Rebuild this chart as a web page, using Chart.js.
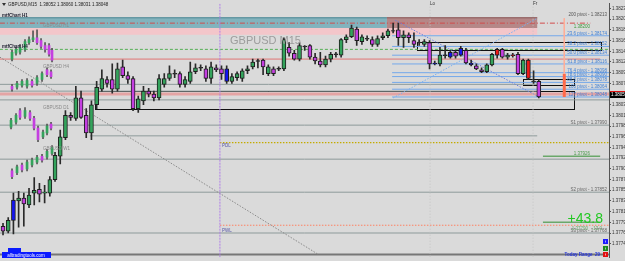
<!DOCTYPE html>
<html lang="en">
<head>
<meta charset="UTF-8">
<title>GBPUSD M15</title>
<style>
  html, body { margin: 0; padding: 0; background: #dadada; overflow: hidden; }
  #chart { display: block; }
</style>
</head>
<body>
<canvas id="chart" width="625" height="261" style="width:625px;height:261px"></canvas>
<script src="https://cdn.jsdelivr.net/npm/chart.js"></script>
<script>
// M15 candles, one per bar index (0 = leftmost)
const opens = [1.37782,1.37772,1.37794,1.37834,1.37840,1.37826,1.37850,1.37858,1.37850,1.37850,
  1.37878,1.37926,1.37964,1.38010,1.38004,1.38046,1.38010,1.37974,1.38032,1.38064,
  1.38084,1.38084,1.38064,1.38110,1.38092,1.38086,1.38024,1.38040,1.38060,1.38054,
  1.38046,1.38074,1.38086,1.38096,1.38096,1.38074,1.38080,1.38100,1.38108,1.38106,
  1.38086,1.38108,1.38106,1.38106,1.38080,1.38088,1.38086,1.38102,1.38110,1.38122,
  1.38124,1.38096,1.38106,1.38106,1.38106,1.38150,1.38138,1.38126,1.38152,1.38154,
  1.38130,1.38122,1.38114,1.38126,1.38136,1.38134,1.38166,1.38172,1.38188,1.38162,
  1.38168,1.38166,1.38156,1.38170,1.38174,1.38184,1.38186,1.38170,1.38176,1.38164,
  1.38160,1.38156,1.38160,1.38118,1.38116,1.38134,1.38130,1.38140,1.38134,1.38144,
  1.38118,1.38112,1.38104,1.38100,1.38114,1.38134,1.38146,1.38130,1.38134,1.38136,
  1.38096,1.38124,1.38080,1.38080];
const highs = [1.37788,1.37800,1.37850,1.37854,1.37850,1.37860,1.37882,1.37870,1.37866,1.37884,
  1.37934,1.37980,1.38020,1.38016,1.38070,1.38060,1.38024,1.38040,1.38080,1.38104,
  1.38090,1.38116,1.38118,1.38124,1.38100,1.38090,1.38050,1.38070,1.38066,1.38060,
  1.38094,1.38096,1.38112,1.38104,1.38100,1.38090,1.38120,1.38116,1.38114,1.38112,
  1.38120,1.38114,1.38112,1.38112,1.38096,1.38100,1.38106,1.38112,1.38126,1.38126,
  1.38126,1.38114,1.38110,1.38110,1.38170,1.38160,1.38144,1.38160,1.38154,1.38156,
  1.38138,1.38140,1.38132,1.38140,1.38140,1.38168,1.38176,1.38196,1.38192,1.38176,
  1.38174,1.38172,1.38174,1.38180,1.38188,1.38200,1.38200,1.38184,1.38180,1.38180,
  1.38166,1.38166,1.38164,1.38122,1.38150,1.38154,1.38144,1.38144,1.38152,1.38148,
  1.38124,1.38116,1.38108,1.38116,1.38138,1.38148,1.38148,1.38138,1.38138,1.38140,
  1.38126,1.38126,1.38102,1.38084];
const lows = [1.37764,1.37768,1.37766,1.37780,1.37782,1.37820,1.37826,1.37832,1.37830,1.37844,
  1.37874,1.37910,1.37960,1.38000,1.38000,1.38004,1.37964,1.37960,1.38024,1.38060,
  1.38068,1.38056,1.38060,1.38088,1.38076,1.38020,1.38016,1.38032,1.38048,1.38040,
  1.38042,1.38068,1.38082,1.38088,1.38068,1.38068,1.38076,1.38096,1.38102,1.38080,
  1.38076,1.38100,1.38084,1.38076,1.38076,1.38082,1.38080,1.38096,1.38106,1.38108,
  1.38094,1.38092,1.38092,1.38102,1.38102,1.38132,1.38124,1.38122,1.38144,1.38126,
  1.38116,1.38110,1.38110,1.38120,1.38130,1.38130,1.38160,1.38170,1.38154,1.38156,
  1.38164,1.38152,1.38152,1.38166,1.38170,1.38180,1.38154,1.38150,1.38160,1.38150,
  1.38154,1.38152,1.38106,1.38114,1.38112,1.38128,1.38128,1.38128,1.38132,1.38116,
  1.38112,1.38104,1.38098,1.38098,1.38112,1.38128,1.38128,1.38126,1.38130,1.38094,
  1.38094,1.38084,1.38076,1.38046];
const closes = [1.37772,1.37794,1.37836,1.37840,1.37828,1.37846,1.37856,1.37848,1.37852,1.37878,
  1.37928,1.37966,1.38010,1.38006,1.38046,1.38006,1.37974,1.38032,1.38068,1.38086,
  1.38076,1.38064,1.38106,1.38092,1.38084,1.38024,1.38044,1.38060,1.38054,1.38046,
  1.38086,1.38086,1.38096,1.38096,1.38074,1.38084,1.38100,1.38108,1.38108,1.38086,
  1.38110,1.38104,1.38096,1.38080,1.38090,1.38096,1.38102,1.38106,1.38120,1.38122,
  1.38110,1.38110,1.38096,1.38106,1.38166,1.38138,1.38126,1.38154,1.38152,1.38130,
  1.38122,1.38114,1.38126,1.38136,1.38136,1.38166,1.38172,1.38190,1.38164,1.38172,
  1.38168,1.38156,1.38168,1.38174,1.38184,1.38184,1.38170,1.38176,1.38170,1.38156,
  1.38160,1.38162,1.38116,1.38116,1.38134,1.38134,1.38140,1.38132,1.38148,1.38118,
  1.38114,1.38106,1.38100,1.38114,1.38136,1.38146,1.38130,1.38134,1.38134,1.38096,
  1.38124,1.38086,1.38080,1.38048];
// bars painted blue / red by the indicator
const blueBars = [2, 43, 83, 86, 88, 90];
const redBars = [95, 98, 101];

// small H1 / H4 / D1 / W1 panels at the left (x in bar units)
const miniX = [1.73,2.5,3.27,4.23,5.0,5.77,6.54,7.31,8.08,8.85,9.42,
  1.73,2.69,3.65,4.62,5.58,6.54,7.5,8.46,9.23,
  1.54,2.5,3.27,4.23,5.19,5.96,6.73,7.69,8.46,9.23,
  1.73,2.69,3.65,4.62,5.58,6.54,7.5,8.46,9.42];
const miniOpen = [1.38126,1.38138,1.38140,1.38146,1.38160,1.38166,1.38170,1.38164,1.38154,1.38154,1.38144,
  1.38070,1.38068,1.38072,1.38070,1.38080,1.38076,1.38084,1.38104,1.38100,
  1.37986,1.37996,1.38020,1.38008,1.38016,1.38004,1.37984,1.37966,1.37974,1.37992,
  1.37896,1.37892,1.37908,1.37900,1.37908,1.37914,1.37926,1.37924,1.37932];
const miniHigh = [1.38144,1.38150,1.38156,1.38166,1.38172,1.38184,1.38186,1.38168,1.38160,1.38158,1.38148,
  1.38074,1.38080,1.38084,1.38086,1.38084,1.38092,1.38100,1.38108,1.38104,
  1.38004,1.38014,1.38024,1.38026,1.38020,1.38008,1.37988,1.37980,1.37992,1.37996,
  1.37900,1.37908,1.37912,1.37918,1.37922,1.37928,1.37930,1.37940,1.37948];
const miniLow = [1.38122,1.38134,1.38136,1.38142,1.38156,1.38162,1.38156,1.38148,1.38140,1.38132,1.38120,
  1.38060,1.38064,1.38068,1.38066,1.38068,1.38072,1.38080,1.38090,1.38086,
  1.37982,1.37992,1.38002,1.38004,1.38000,1.37980,1.37956,1.37962,1.37970,1.37980,
  1.37880,1.37888,1.37894,1.37896,1.37904,1.37910,1.37914,1.37920,1.37928];
const miniClose = [1.38140,1.38146,1.38150,1.38162,1.38166,1.38170,1.38160,1.38152,1.38146,1.38136,1.38124,
  1.38064,1.38076,1.38080,1.38082,1.38072,1.38088,1.38096,1.38094,1.38090,
  1.38000,1.38010,1.38006,1.38020,1.38004,1.37984,1.37960,1.37976,1.37988,1.37984,
  1.37884,1.37904,1.37898,1.37914,1.37918,1.37924,1.37918,1.37936,1.37944];

// horizontal levels: price, first bar, last bar
const grayLevels = [1.38074, 1.38060, 1.38042, 1.37990, 1.37968, 1.37920, 1.37852, 1.37768];
const grayFrom   = [-0.6, -0.6, -0.6, -0.6, 16.7, -0.6, -0.6, -0.6];
const grayTo     = [102.7, 102.7, 116.5, 116.5, 102.7, 116.5, 116.5, 116.5];
const fibLevels  = [1.38174, 1.38152, 1.38134, 1.38116, 1.38098, 1.38090, 1.38078, 1.38064, 1.38048];
const fibNames   = ['23.6 pivot', '38.2 pivot', '50.0 pivot', '61.8 pivot', '76.4 pivot', '78.6 pivot', '88.6 pivot', '100 pivot', '127 pivot'];
const redDashLevel = 1.38200;
const greenDashLevel = 1.38146;
const salmonLevel = 1.38126;
const pinkLevel = 1.38054;
const yellowLevel = 1.37954;
const orangeLevel = 1.37784;
const greenShortLevels = [1.37926, 1.37790];
const bottomLevel = 1.37724;

// zones [fromBar, toBar, priceTop, priceBottom]
const tealZone = [-0.6, 73.8, 1.38212, 1.38190];
const brownZone = [73.8, 102.7, 1.38212, 1.38190];
const pinkZone = [-0.6, 102.7, 1.38190, 1.38176];
const boxes = [[17.7, 109.8, 1.38060, 1.38024], [100.0, 109.8, 1.38086, 1.38072], [79.6, 114.9, 1.38162, 1.38144]];

const yTickLabels = ['1.38230','1.38208','1.38186','1.38164','1.38142','1.38120','1.38098','1.38076',
  '1.38054','1.38032','1.38010','1.37988','1.37966','1.37944','1.37922','1.37900','1.37878','1.37856',
  '1.37834','1.37812','1.37790','1.37768','1.37746'];
const lastPrice = 1.38052;
const pivotR = 1.38213, pivotS = [1.37990, 1.37852, 1.37768];

const yMin = 1.37718, yMax = 1.38240, xMin = -0.58, xMax = 116.5;

// ---- datasets ----
const FONT = '"Liberation Sans", Arial, sans-serif';
function level(p, a, b, color, width, dash) {
  return { type: 'line', data: [{ x: a, y: p }, { x: b, y: p }], borderColor: color, borderWidth: width,
    borderDash: dash || [], pointRadius: 0, fill: false, order: 10 };
}
function seg(x1, p1, x2, p2, color, width, dash) {
  return { type: 'line', data: [{ x: x1, y: p1 }, { x: x2, y: p2 }], borderColor: color, borderWidth: width,
    borderDash: dash || [], pointRadius: 0, fill: false, order: 9 };
}
function bodyColor(i, o, c) {
  if (blueBars.includes(i)) return '#1414f0';
  if (redBars.includes(i)) return '#f01818';
  if (c > o) return '#34a35c';
  if (c < o) return '#c43fe0';
  return '#333333';
}
function body(o, c) { return o === c ? [o - 0.000008, o + 0.000008] : [o, c]; }

const datasets = [];
grayLevels.forEach((p, k) => datasets.push(level(p, grayFrom[k], grayTo[k], '#8d9a9a', 1)));
fibLevels.forEach(p => datasets.push(level(p, 74.8, 116.5, '#74a8ea', 1)));
datasets.push(level(redDashLevel, -0.6, 112.9, '#d24b4b', 1, [5, 2, 1, 2]));
datasets.push(level(greenDashLevel, -0.6, 116.5, '#55b055', 1, [3, 2]));
datasets.push(level(salmonLevel, -0.6, 114.8, '#e07474', 1));
datasets.push(level(pinkLevel, -0.6, 116.5, 'rgba(236,120,120,0.55)', 3));
datasets.push(level(yellowLevel, 41.7, 116.5, '#c4ab00', 1.2, [1.5, 1.5]));
datasets.push(level(orangeLevel, 41.7, 116.5, '#ff8262', 1, [1.5, 1.5]));
greenShortLevels.forEach(p => datasets.push(level(p, 103.8, 114.8, '#6aa86a', 1.5)));
datasets.push(level(bottomLevel, -0.6, 116.5, '#777777', 2));
// verticals and trend lines
datasets.push(seg(41.7, yMax, 41.7, yMin, '#b07ee8', 1, [2, 1]));
datasets.push(seg(82.1, yMax, 82.1, yMin, '#c4c4c4', 1, [1, 2]));
datasets.push(seg(101.9, yMax, 101.9, yMin, '#c4c4c4', 1, [1, 2]));
datasets.push(seg(107.9, 1.38210, 107.9, 1.38096, '#ffae98', 1));
datasets.push(seg(107.9, 1.38096, 107.9, 1.38048, '#ff6a4a', 3));
datasets.push(seg(-0.6, 1.38130, 60.6, 1.37724, '#8a8a8a', 1, [1.5, 1.5]));
datasets.push(seg(75.4, 1.38206, 102.7, 1.38050, '#6b7fe0', 1, [1.5, 1.5]));
datasets.push(seg(75.0, 1.38046, 102.7, 1.38210, '#7ab0f0', 1, [1.5, 1.5]));
// candles
datasets.push({ type: 'bar', data: highs.map((h, i) => ({ x: i, y: [lows[i], h] })), backgroundColor: '#2a2a2a',
  barThickness: 1, grouped: false, order: 2 });
datasets.push({ type: 'bar', data: opens.map((o, i) => ({ x: i, y: body(o, closes[i]) })),
  backgroundColor: opens.map((o, i) => bodyColor(i, o, closes[i])), borderColor: '#1e1e1e', borderWidth: 1,
  borderSkipped: false, barThickness: 4, grouped: false, order: 1 });
datasets.push({ type: 'bar', data: miniX.map((x, i) => ({ x: x, y: [miniLow[i], miniHigh[i]] })), backgroundColor: '#555',
  barThickness: 1, grouped: false, order: 4 });
datasets.push({ type: 'bar', data: miniX.map((x, i) => ({ x: x, y: body(miniOpen[i], miniClose[i]) })),
  backgroundColor: miniX.map((x, i) => miniClose[i] >= miniOpen[i] ? '#34a35c' : '#c43fe0'),
  barThickness: 2, grouped: false, order: 3 });

// ---- overlay: zones, boxes, texts ----
const overlay = {
  id: 'overlay',
  beforeDraw(chart) {
    const ctx = chart.ctx;
    ctx.save();
    ctx.fillStyle = '#dadada';
    ctx.fillRect(0, 0, chart.width, chart.height);
    ctx.restore();
  },
  beforeDatasetsDraw(chart) {
    const ctx = chart.ctx, x = chart.scales.x, y = chart.scales.y;
    const zone = (z, fill, edge) => {
      const x1 = x.getPixelForValue(z[0]), x2 = x.getPixelForValue(z[1]);
      const y1 = y.getPixelForValue(z[2]), y2 = y.getPixelForValue(z[3]);
      ctx.fillStyle = fill;
      ctx.fillRect(x1, y1, x2 - x1, y2 - y1);
      if (edge) { ctx.fillStyle = edge; ctx.fillRect(x1, y1, x2 - x1, 1); }
    };
    ctx.save();
    zone(tealZone, '#82b3bd', '#4f8794');
    zone(brownZone, '#b58787', '#8a5a5a');
    zone(pinkZone, '#f3c6ca');
    ctx.strokeStyle = '#111';
    ctx.lineWidth = 1;
    boxes.forEach(b => {
      const x1 = Math.round(x.getPixelForValue(b[0])) + 0.5, x2 = Math.round(x.getPixelForValue(b[1])) + 0.5;
      const y1 = Math.round(y.getPixelForValue(b[2])) + 0.5, y2 = Math.round(y.getPixelForValue(b[3])) + 0.5;
      ctx.strokeRect(x1, y1, x2 - x1, y2 - y1);
    });
    ctx.restore();
  },
  afterDatasetsDraw(chart) {
    const ctx = chart.ctx, y = chart.scales.y;
    const right = 607;
    ctx.save();
    const txt = (s, px, py, font, color, align) => {
      ctx.font = font; ctx.fillStyle = color; ctx.textAlign = align || 'left'; ctx.textBaseline = 'alphabetic';
      ctx.fillText(s, px, py);
    };
    const small = '4.5px ' + FONT;
    // level labels on the right
    txt('200 pivot - ' + pivotR.toFixed(5), right, y.getPixelForValue(pivotR) - 1, small, '#555', 'right');
    txt(redDashLevel.toFixed(5), 590, y.getPixelForValue(redDashLevel) + 5, small, '#3a9a3a', 'right');
    fibLevels.forEach((p, k) => txt(fibNames[k] + ' - ' + p.toFixed(5), right, y.getPixelForValue(p) - 1, small, '#3d7fd6', 'right'));
    ['S1', 'S2', 'S3'].forEach((n, k) => txt(n + ' pivot - ' + pivotS[k].toFixed(5), right, y.getPixelForValue(pivotS[k]) - 1, small, '#666', 'right'));
    txt(greenShortLevels[0].toFixed(5), 590, y.getPixelForValue(greenShortLevels[0]) - 1, small, '#4a9a4a', 'right');
    // header
    ctx.fillStyle = '#333';
    ctx.beginPath(); ctx.moveTo(2, 3); ctx.lineTo(6, 3); ctx.lineTo(4, 6); ctx.fill();
    txt('GBPUSD,M15  1.38052 1.38060 1.38031 1.38048', 8, 6, small, '#222');
    txt('Lo', 430, 5, small, '#333');
    txt('Fr', 533, 5, small, '#333');
    // panel captions
    txt('mtfChart H1', 2, 17, 'bold 4.5px ' + FONT, '#223');
    txt('mtfChart H4', 2, 48, 'bold 4.5px ' + FONT, '#223');
    txt('GBPUSD H1', 43, 27, small, '#8a8a8a');
    txt('GBPUSD H4', 43, 68, small, '#8a8a8a');
    txt('GBPUSD D1', 43, 109, small, '#8a8a8a');
    txt('GBPUSD W1', 43, 150, small, '#8a8a8a');
    txt('GBPUSD M15', 230, 44, '11px ' + FONT, '#9c9c9c');
    txt('PDL', 222, 147, small, '#5555a8');
    txt('PWL', 222, 232, small, '#5555a8');
    // profit box
    txt('+43.8', 603, 223, '14px ' + FONT, '#22c822', 'right');
    txt('1.37790   -13.0', 602, 230, small, '#6aa86a', 'right');
    txt('Today Range  29', 600, 256, 'bold 4.5px ' + FONT, '#2233dd', 'right');
    [['#1a1aff', 239], ['#1c8a1c', 246], ['#e01010', 252]].forEach(s => {
      ctx.fillStyle = s[0]; ctx.fillRect(603, s[1], 5, 5);
      ctx.fillStyle = 'rgba(255,255,255,0.6)'; ctx.fillRect(605, s[1] + 1.5, 1, 2);
    });
    // watermark box
    ctx.fillStyle = '#0a1aff';
    ctx.fillRect(8, 248, 13, 4);
    ctx.fillRect(2, 252, 49, 6);
    txt('alltradingtools.com', 26, 257, small, '#ffffff', 'center');
    ctx.restore();
  },
  afterDraw(chart) {
    const ctx = chart.ctx, py = Math.round(chart.scales.y.getPixelForValue(lastPrice));
    ctx.save();
    ctx.fillStyle = '#000';
    ctx.fillRect(610, py - 3, 15, 6);
    ctx.fillStyle = '#e01010';
    ctx.fillRect(610, py - 4, 15, 1);
    ctx.font = '4.5px ' + FONT; ctx.fillStyle = '#fff'; ctx.textBaseline = 'middle';
    ctx.fillText(lastPrice.toFixed(5), 611, py);
    ctx.restore();
  }
};

new Chart(document.getElementById('chart'), {
  type: 'bar',
  data: { datasets: datasets },
  options: {
    responsive: false,
    animation: false,
    devicePixelRatio: 1,
    layout: { padding: 0 },
    plugins: { legend: { display: false }, tooltip: { enabled: false } },
    scales: {
      x: { type: 'linear', min: xMin, max: xMax, offset: false, display: false },
      y: {
        position: 'right', min: yMin, max: yMax,
        afterBuildTicks: s => { s.ticks = yTickLabels.map(v => ({ value: parseFloat(v) })); },
        afterFit: s => { s.width = 16; },
        ticks: { autoSkip: false, padding: 1, color: '#333', font: { size: 4.5, family: FONT },
          callback: (v, i) => yTickLabels[i] },
        grid: { drawOnChartArea: false, drawTicks: true, tickLength: 2, color: '#555' },
        border: { display: true, color: '#555' }
      }
    }
  },
  plugins: [overlay]
});
</script>
</body>
</html>
